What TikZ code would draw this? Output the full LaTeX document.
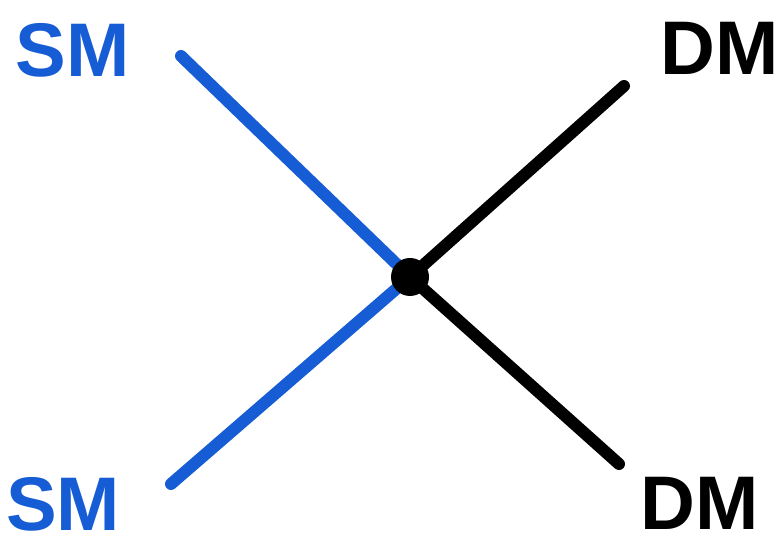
\documentclass[tikz,border=0pt]{standalone}
\usepackage{fontspec}
\setmainfont{Liberation Sans}
\definecolor{smblue}{RGB}{22,92,212}
\tikzset{
  lbl/.style={font=\fontsize{76}{76}\selectfont\bfseries, inner sep=0pt},
  leg/.style={line width=12pt, line cap=round},
}
\begin{document}
\begin{tikzpicture}[x=1pt,y=1pt]
\useasboundingbox (0,0) rectangle (782,546);
\node[lbl, text=smblue] (sm1) at (73,496) {SM};
\node[lbl, text=smblue] (sm2) at (63,42) {SM};
\node[lbl] (dm1) at (720,498) {DM};
\node[lbl] (dm2) at (700,43) {DM};
\coordinate (v) at (410,269);
\coordinate (a1) at (181,490);
\coordinate (a2) at (171,62);
\coordinate (b1) at (624,460);
\coordinate (b2) at (619,82);
\draw[leg, smblue] (a1) -- (v);
\draw[leg, smblue] (a2) -- (v);
\draw[leg] (b1) -- (v);
\draw[leg] (b2) -- (v);
\fill (v) circle (19);
\end{tikzpicture}
\end{document}
